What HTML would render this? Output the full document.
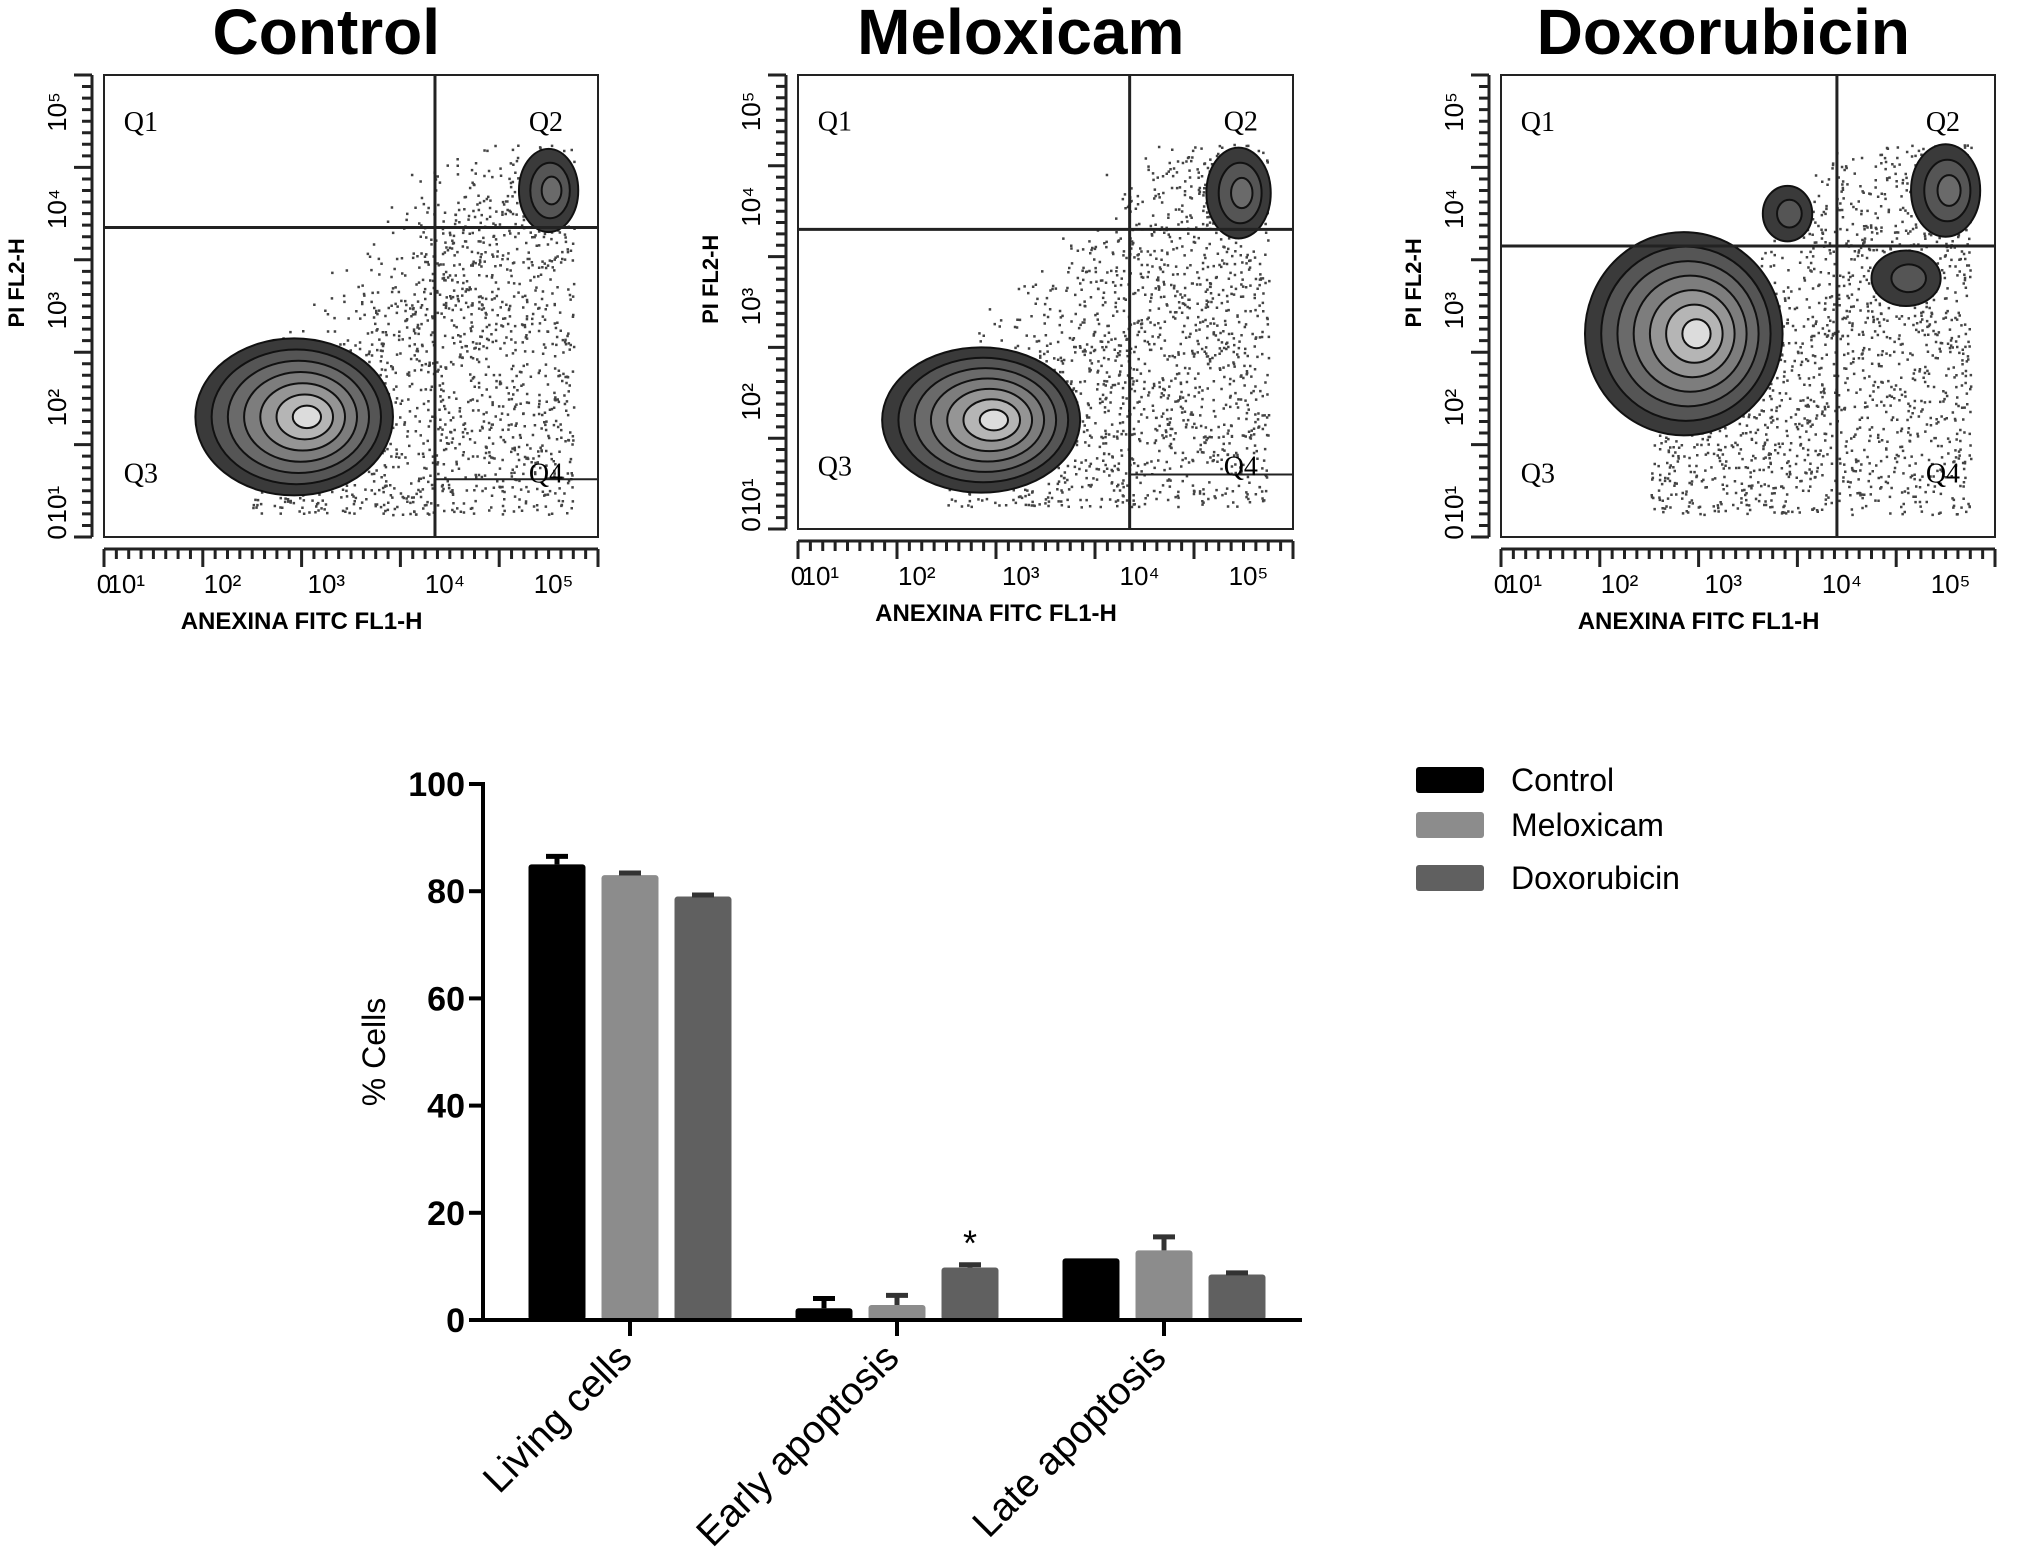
<!DOCTYPE html>
<html><head><meta charset="utf-8"><style>
body{margin:0;background:#fff}
svg{display:block;font-family:"Liberation Sans",sans-serif}
</style></head><body>
<svg id="fig" width="2031" height="1567" viewBox="0 0 2031 1567">
<g id="flow"></g>
<g id="bars"></g>
</svg>
<script>
// ---- bar chart data ----
const categories = ["Living cells","Early apoptosis","Late apoptosis"];
const seriesNames = ["Control","Meloxicam","Doxorubicin"];
const controlVals = [85, 2.2, 11.5];
const meloxVals = [83, 2.8, 13];
const doxoVals = [79, 9.8, 8.5];
const controlErr = [1.5, 1.8, 0];
const meloxErr = [0.4, 1.8, 2.5];
const doxoErr = [0.3, 0.5, 0.3];
const yTicks = [0,20,40,60,80,100];

const NS="http://www.w3.org/2000/svg";
function mk(tag,attrs,parent,text){const e=document.createElementNS(NS,tag);for(const k in attrs)e.setAttribute(k,attrs[k]);if(text!==undefined)e.textContent=text;parent.appendChild(e);return e;}

// ---- bar chart ----
(function(){
 const g=document.getElementById('bars');
 const x0=483,x1=1302,y0=1320,y100=784;
 const ys=v=>y0-(y0-y100)*v/100;
 const groupC=[630,897,1164], bw=57, step=73;
 const colors=["#000","#8c8c8c","#606060"];
 const vals=[controlVals,meloxVals,doxoVals], errs=[controlErr,meloxErr,doxoErr];
 categories.forEach((c,i)=>{
  for(let s=0;s<3;s++){
   const cx=groupC[i]+(s-1)*step, v=vals[s][i], e=errs[s][i];
   const r=mk('rect',{x:cx-bw/2,y:ys(v),width:bw,height:y0-ys(v),fill:colors[s],rx:3},g);
   
   
   if(e>0){
    const eb=mk('path',{d:`M${cx} ${ys(v)} V${ys(v+e)} M${cx-11} ${ys(v+e)} H${cx+11}`,stroke:colors[s]==="#000"?"#000":"#333",'stroke-width':5,fill:'none'},g);
    
    
   }
  }
  const t=mk('line',{x1:groupC[i],x2:groupC[i],y1:y0,y2:y0+16,stroke:'#000','stroke-width':4},g);
  
  
  const lab=mk('text',{x:0,y:0,'font-size':39,'text-anchor':'end',transform:`translate(${groupC[i]+4},${y0+40}) rotate(-45)`},g,c);
  
  
 });
 const star=mk('text',{x:groupC[1]+step,y:ys(doxoVals[1])-12,'font-size':36,'text-anchor':'middle'},g,'*');
 
 
 mk('line',{x1:x0,x2:x0,y1:y100-2,y2:y0,stroke:'#000','stroke-width':4,},g);
 mk('line',{x1:x0-2,x2:x1,y1:y0,y2:y0,stroke:'#000','stroke-width':4,},g);
 yTicks.forEach(v=>{
  const t=mk('line',{x1:x0-14,x2:x0,y1:ys(v),y2:ys(v),stroke:'#000','stroke-width':4},g);
  
  
  const l=mk('text',{x:x0-18,y:ys(v)+12,'font-size':34,'font-weight':'bold','text-anchor':'end'},g,v);
  
  
 });
 mk('text',{x:0,y:0,'font-size':32,'text-anchor':'middle',transform:'translate(385,1052) rotate(-90)',},g,'% Cells');
 const ly=[767,812,865];
 seriesNames.forEach((n,s)=>{
  const r=mk('rect',{x:1416,y:ly[s],width:68,height:26,fill:colors[s],rx:3},g);
  
  
  const t=mk('text',{x:1511,y:ly[s]+24,'font-size':32},g,n);
  
  
 });
})();

// ---- flow panels (decorative) ----
(function(){
 const g=document.getElementById('flow');
 const panels=[
  {title:"Control",x:104,y:75,w:494,h:462,vx:0.67,hy:0.33,q4:0.875,main:[0.385,0.74,0.2,0.17],q2:[0.9,0.25,0.06,0.09],extra:[]},
  {title:"Meloxicam",x:798,y:75,w:495,h:454,vx:0.67,hy:0.34,q4:0.88,main:[0.37,0.76,0.2,0.16],q2:[0.89,0.26,0.065,0.1],extra:[]},
  {title:"Doxorubicin",x:1501,y:75,w:494,h:462,vx:0.68,hy:0.37,q4:null,main:[0.37,0.56,0.2,0.22],q2:[0.9,0.25,0.07,0.1],extra:[[0.58,0.3,0.05,0.06],[0.82,0.44,0.07,0.06]]}
 ];
 let seed=7;const rnd=()=>{seed=(seed*16807)%2147483647;return seed/2147483647;};
 panels.forEach(p=>{
  const pg=mk('g',{},g);
  
  
  mk('text',{x:p.x+p.w*0.45,y:54,'font-size':64,'font-weight':'bold','text-anchor':'middle',},pg,p.title);
  let d='';
  for(let i=0;i<2200;i++){
   const a=rnd(),b=rnd();
   let fx=0.3+a*0.65, fy=0.95-b*0.8;
   if(fy<0.75-(fx-0.3)*1.3+ (rnd()-0.5)*0.3) continue;
   const X=p.x+fx*p.w,Y=p.y+fy*p.h;
   d+=`M${X.toFixed(1)} ${Y.toFixed(1)}h2.5v2.5h-2.5z`;
  }
  mk('path',{d:d,fill:'#444'},pg);
  const blob=(b,levels)=>{
   const cx=p.x+b[0]*p.w,cy=p.y+b[1]*p.h,rx=b[2]*p.w,ry=b[3]*p.h;
   const fills=["#3a3a3a","#555","#6a6a6a","#7d7d7d","#959595","#b5b5b5","#dcdcdc"];
   for(let k=0;k<levels;k++){
    const f=1-k/levels;
    mk('ellipse',{cx:cx+rx*0.15*(k/levels),cy:cy,rx:rx*f,ry:ry*f,fill:fills[Math.min(k,6)],stroke:'#111','stroke-width':2},pg);
   }
  };
  blob(p.main,7);blob(p.q2,3);p.extra.forEach(e=>blob(e,2));
  mk('rect',{x:p.x,y:p.y,width:p.w,height:p.h,fill:'none',stroke:'#222','stroke-width':2},pg);
  mk('line',{x1:p.x+p.vx*p.w,x2:p.x+p.vx*p.w,y1:p.y,y2:p.y+p.h,stroke:'#222','stroke-width':3},pg);
  mk('line',{x1:p.x,x2:p.x+p.w,y1:p.y+p.hy*p.h,y2:p.y+p.hy*p.h,stroke:'#222','stroke-width':3},pg);
  if(p.q4) mk('line',{x1:p.x+p.vx*p.w,x2:p.x+p.w,y1:p.y+p.q4*p.h,y2:p.y+p.q4*p.h,stroke:'#222','stroke-width':2},pg);
  const q=[["Q1",0.04,0.1],["Q2",0.86,0.1],["Q3",0.04,0.86],["Q4",0.86,0.86]];
  q.forEach(z=>mk('text',{x:p.x+z[1]*p.w,y:p.y+z[2]*p.h+10,'font-size':28,'font-family':'Liberation Serif, serif',},pg,z[0]));
  mk('line',{x1:p.x,x2:p.x+p.w,y1:p.y+p.h+12,y2:p.y+p.h+12,stroke:'#222','stroke-width':3},pg);
  mk('line',{x1:p.x-12,x2:p.x-12,y1:p.y,y2:p.y+p.h,stroke:'#222','stroke-width':3},pg);
  let tk='';
  for(let i=0;i<=40;i++){const X=p.x+i*p.w/40;tk+=`M${X} ${p.y+p.h+12}v${i%8==0?18:10}`;}
  for(let i=0;i<=40;i++){const Y=p.y+i*p.h/40;tk+=`M${p.x-12} ${Y}h${i%8==0?-18:-10}`;}
  mk('path',{d:tk,stroke:'#222','stroke-width':3},pg);
  const xl=[["0",0.0],["10¹",0.045],["10²",0.24],["10³",0.45],["10⁴",0.69],["10⁵",0.91]];
  xl.forEach(z=>mk('text',{x:p.x+z[1]*p.w,y:p.y+p.h+56,'font-size':26,'text-anchor':'middle'},pg,z[0]));
  const yl=[["10⁵",0.08],["10⁴",0.29],["10³",0.51],["10²",0.72],["10¹",0.93],["0",0.99]];
  yl.forEach(z=>mk('text',{x:0,y:0,'font-size':26,'text-anchor':'middle',transform:`translate(${p.x-38},${p.y+z[1]*p.h}) rotate(-90)`},pg,z[0]));
  mk('text',{x:p.x+p.w*0.4,y:p.y+p.h+92,'font-size':24,'font-weight':'bold','text-anchor':'middle',},pg,'ANEXINA FITC FL1-H');
  mk('text',{x:0,y:0,'font-size':22,'font-weight':'bold','text-anchor':'middle',transform:`translate(${p.x-80},${p.y+p.h*0.45}) rotate(-90)`,},pg,'PI FL2-H');
 });
})();
</script>
</body></html>
